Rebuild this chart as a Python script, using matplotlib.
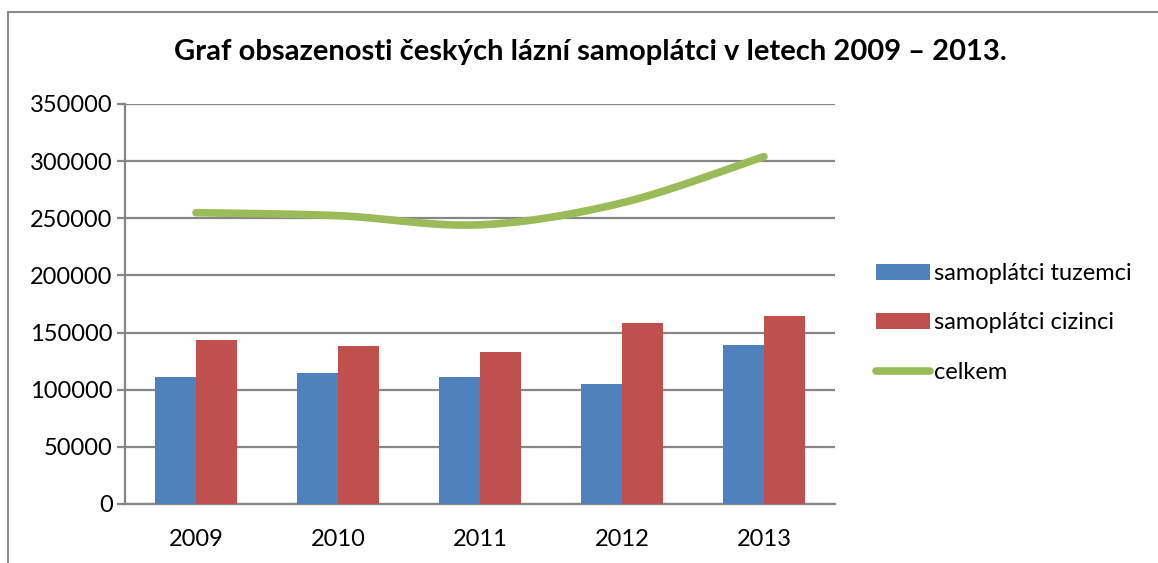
import matplotlib.pyplot as plt
import matplotlib.patches as mpatches
import numpy as np

plt.rcParams['font.family'] = ['Lato', 'DejaVu Sans']

years = ['2009', '2010', '2011', '2012', '2013']
tuzemci = [111000, 114300, 111000, 105300, 139100]
cizinci = [143900, 138000, 133300, 158200, 164900]
celkem = [254900, 252300, 244300, 263500, 304000]
yticks = [0, 50000, 100000, 150000, 200000, 250000, 300000, 350000]

title = 'Graf obsazenosti českých lázní samoplátci v letech 2009 – 2013.'


def smooth(xs, ys, n=40):
    # excel-like smoothed line (bezier through points)
    px = np.concatenate([[xs[0]], xs, [xs[-1]]])
    py = np.concatenate([[ys[0]], ys, [ys[-1]]])
    ox, oy = [], []
    for i in range(1, len(px) - 2):
        p0 = np.array([px[i], py[i]])
        p3 = np.array([px[i + 1], py[i + 1]])
        p1 = p0 + (p3 - np.array([px[i - 1], py[i - 1]])) / 6
        p2 = p3 - (np.array([px[i + 2], py[i + 2]]) - p0) / 6
        t = np.linspace(0, 1, n)[:, None]
        pts = (1 - t)**3 * p0 + 3 * (1 - t)**2 * t * p1 + 3 * (1 - t) * t**2 * p2 + t**3 * p3
        ox.extend(pts[:, 0])
        oy.extend(pts[:, 1])
    return np.array(ox), np.array(oy)


fig = plt.figure(figsize=(11.58, 5.63), dpi=100)
fig.patches.append(mpatches.Rectangle((8 / 1158, -0.1), 1.2, 1 - 12 / 563 + 0.1,
                                      transform=fig.transFigure, fill=False,
                                      edgecolor='#8c8c8c', linewidth=1.5))
ax = fig.add_axes([125 / 1158, 1 - 504 / 563, 710 / 1158, 400 / 563])

x = np.arange(len(years))
w = 1 / 3.5
b1 = ax.bar(x - w / 2, tuzemci, w, color='#4F81BD', label='samoplátci tuzemci', zorder=3)
b2 = ax.bar(x + w / 2, cizinci, w, color='#C0504D', label='samoplátci cizinci', zorder=3)
sx, sy = smooth(x.astype(float), np.array(celkem, dtype=float))
l1, = ax.plot(sx, sy, color='#9BBB59', linewidth=5.5, solid_capstyle='round', zorder=4,
              label='celkem')

ax.set_xlim(-0.5, 4.5)
ax.set_ylim(0, 350000)
ax.set_yticks(yticks)
ax.set_yticklabels([str(v) for v in yticks], fontsize=17)
ax.set_xticks(x)
ax.set_xticklabels(years, fontsize=17)
ax.grid(axis='y', color='#868686', linewidth=1.6, zorder=0)
for s in ['top', 'right']:
    ax.spines[s].set_visible(False)
ax.spines['left'].set_color('#868686')
ax.spines['left'].set_linewidth(1.6)
ax.spines['bottom'].set_color('#868686')
ax.spines['bottom'].set_linewidth(1.6)
ax.tick_params(axis='y', length=6, color='#868686', width=1.6, pad=3)
ax.tick_params(axis='x', length=0, pad=18)

fig.text(590 / 1158, 1 - 52 / 563, title, ha='center', va='center',
         fontsize=21, fontweight='bold')

ax.legend(handles=[b1, b2, l1], loc='center left',
          bbox_to_anchor=(876 / 1158, 1 - 323 / 563),
          bbox_transform=fig.transFigure, frameon=False, fontsize=17, borderpad=0,
          borderaxespad=0, handlelength=2.3, handleheight=0.7, handletextpad=0.15,
          labelspacing=1.2)

fig.savefig('out.png', dpi=100)
